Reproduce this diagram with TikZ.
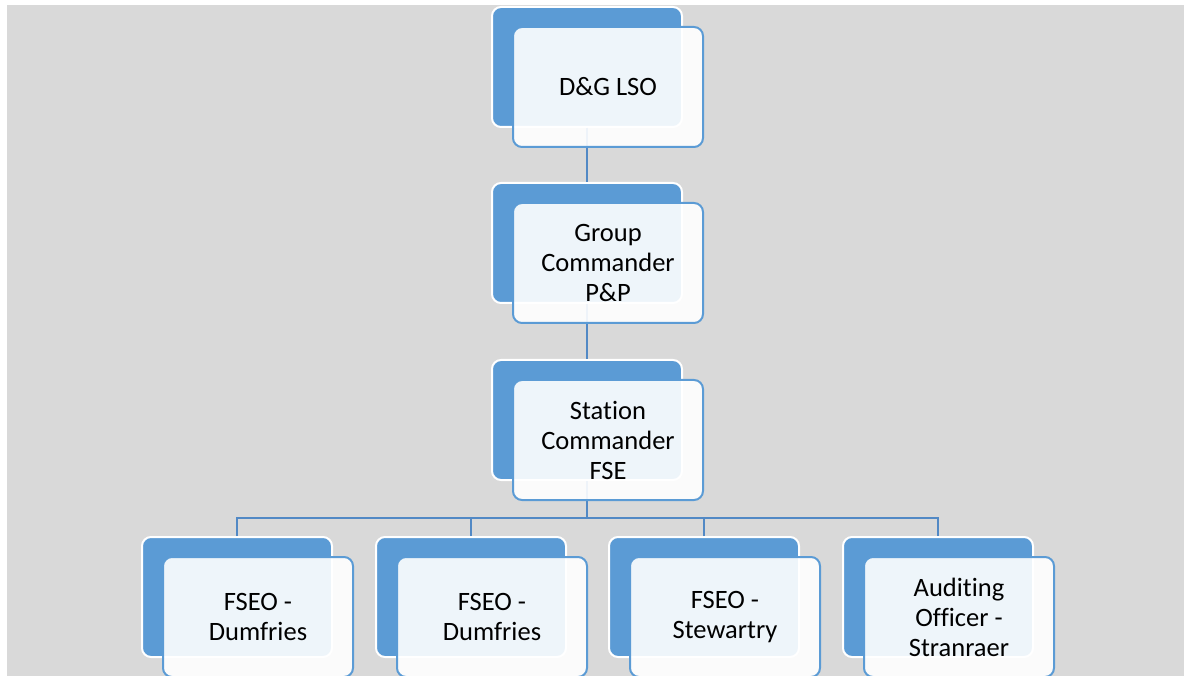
\documentclass[tikz,border=0pt]{standalone}
\usepackage{fontspec}
\setmainfont{Carlito}[Ligatures=NoCommon]
\definecolor{bg}{HTML}{D9D9D9}
\definecolor{accent}{HTML}{5B9BD5}
\definecolor{conn}{RGB}{82,137,197}
\tikzset{
  backbox/.style={draw=white, line width=2pt, fill=accent, rounded corners=9pt,
    minimum width=190pt, minimum height=120pt, inner sep=0pt},
  frontbox/.style={draw=accent, line width=2pt, fill=white, fill opacity=0.9, text opacity=1,
    rounded corners=9pt, minimum width=190pt, minimum height=120pt, inner sep=0pt,
    align=center, font=\fontsize{26.5}{30}\selectfont},
  connector/.style={draw=conn, line width=2pt}
}
\begin{document}
\begin{tikzpicture}[x=1pt,y=-1pt]
\useasboundingbox (0,0) rectangle (1184,676);
\fill[bg] (7,5) rectangle (1184,676);
% back boxes
\node[backbox] (b1) at (587,67) {};
\node[backbox] (b2) at (587,243) {};
\node[backbox] (b3) at (587,420) {};
\node[backbox] (c1) at (237,597) {};
\node[backbox] (c2) at (471,597) {};
\node[backbox] (c3) at (704,597) {};
\node[backbox] (c4) at (938,597) {};
% connectors
\coordinate (bus) at (587,518);
\draw[connector] (b1.south) -- (b2.north);
\draw[connector] (b2.south) -- (b3.north);
\draw[connector] (b3.south) -- (bus);
\draw[connector] (c1.north) |- (bus) -| (c4.north);
\draw[connector] (c2.north) -- (c2.north |- bus);
\draw[connector] (c3.north) -- (c3.north |- bus);
% front boxes
\node[frontbox] (f1) at (608,87) {D\&G LSO};
\node[frontbox] (f2) at (608,263) {Group\\Commander\\P\&P};
\node[frontbox] (f3) at (608,440) {Station\\Commander\\FSE};
\node[frontbox] (g1) at (258,617) {FSEO -\\Dumfries};
\node[frontbox] (g2) at (492,617) {FSEO -\\Dumfries};
\node[frontbox] (g3) at (725,617) {FSEO -\\Stewartry};
\node[frontbox] (g4) at (959,617) {Auditing\\Officer -\\Stranraer};
\end{tikzpicture}
\end{document}
